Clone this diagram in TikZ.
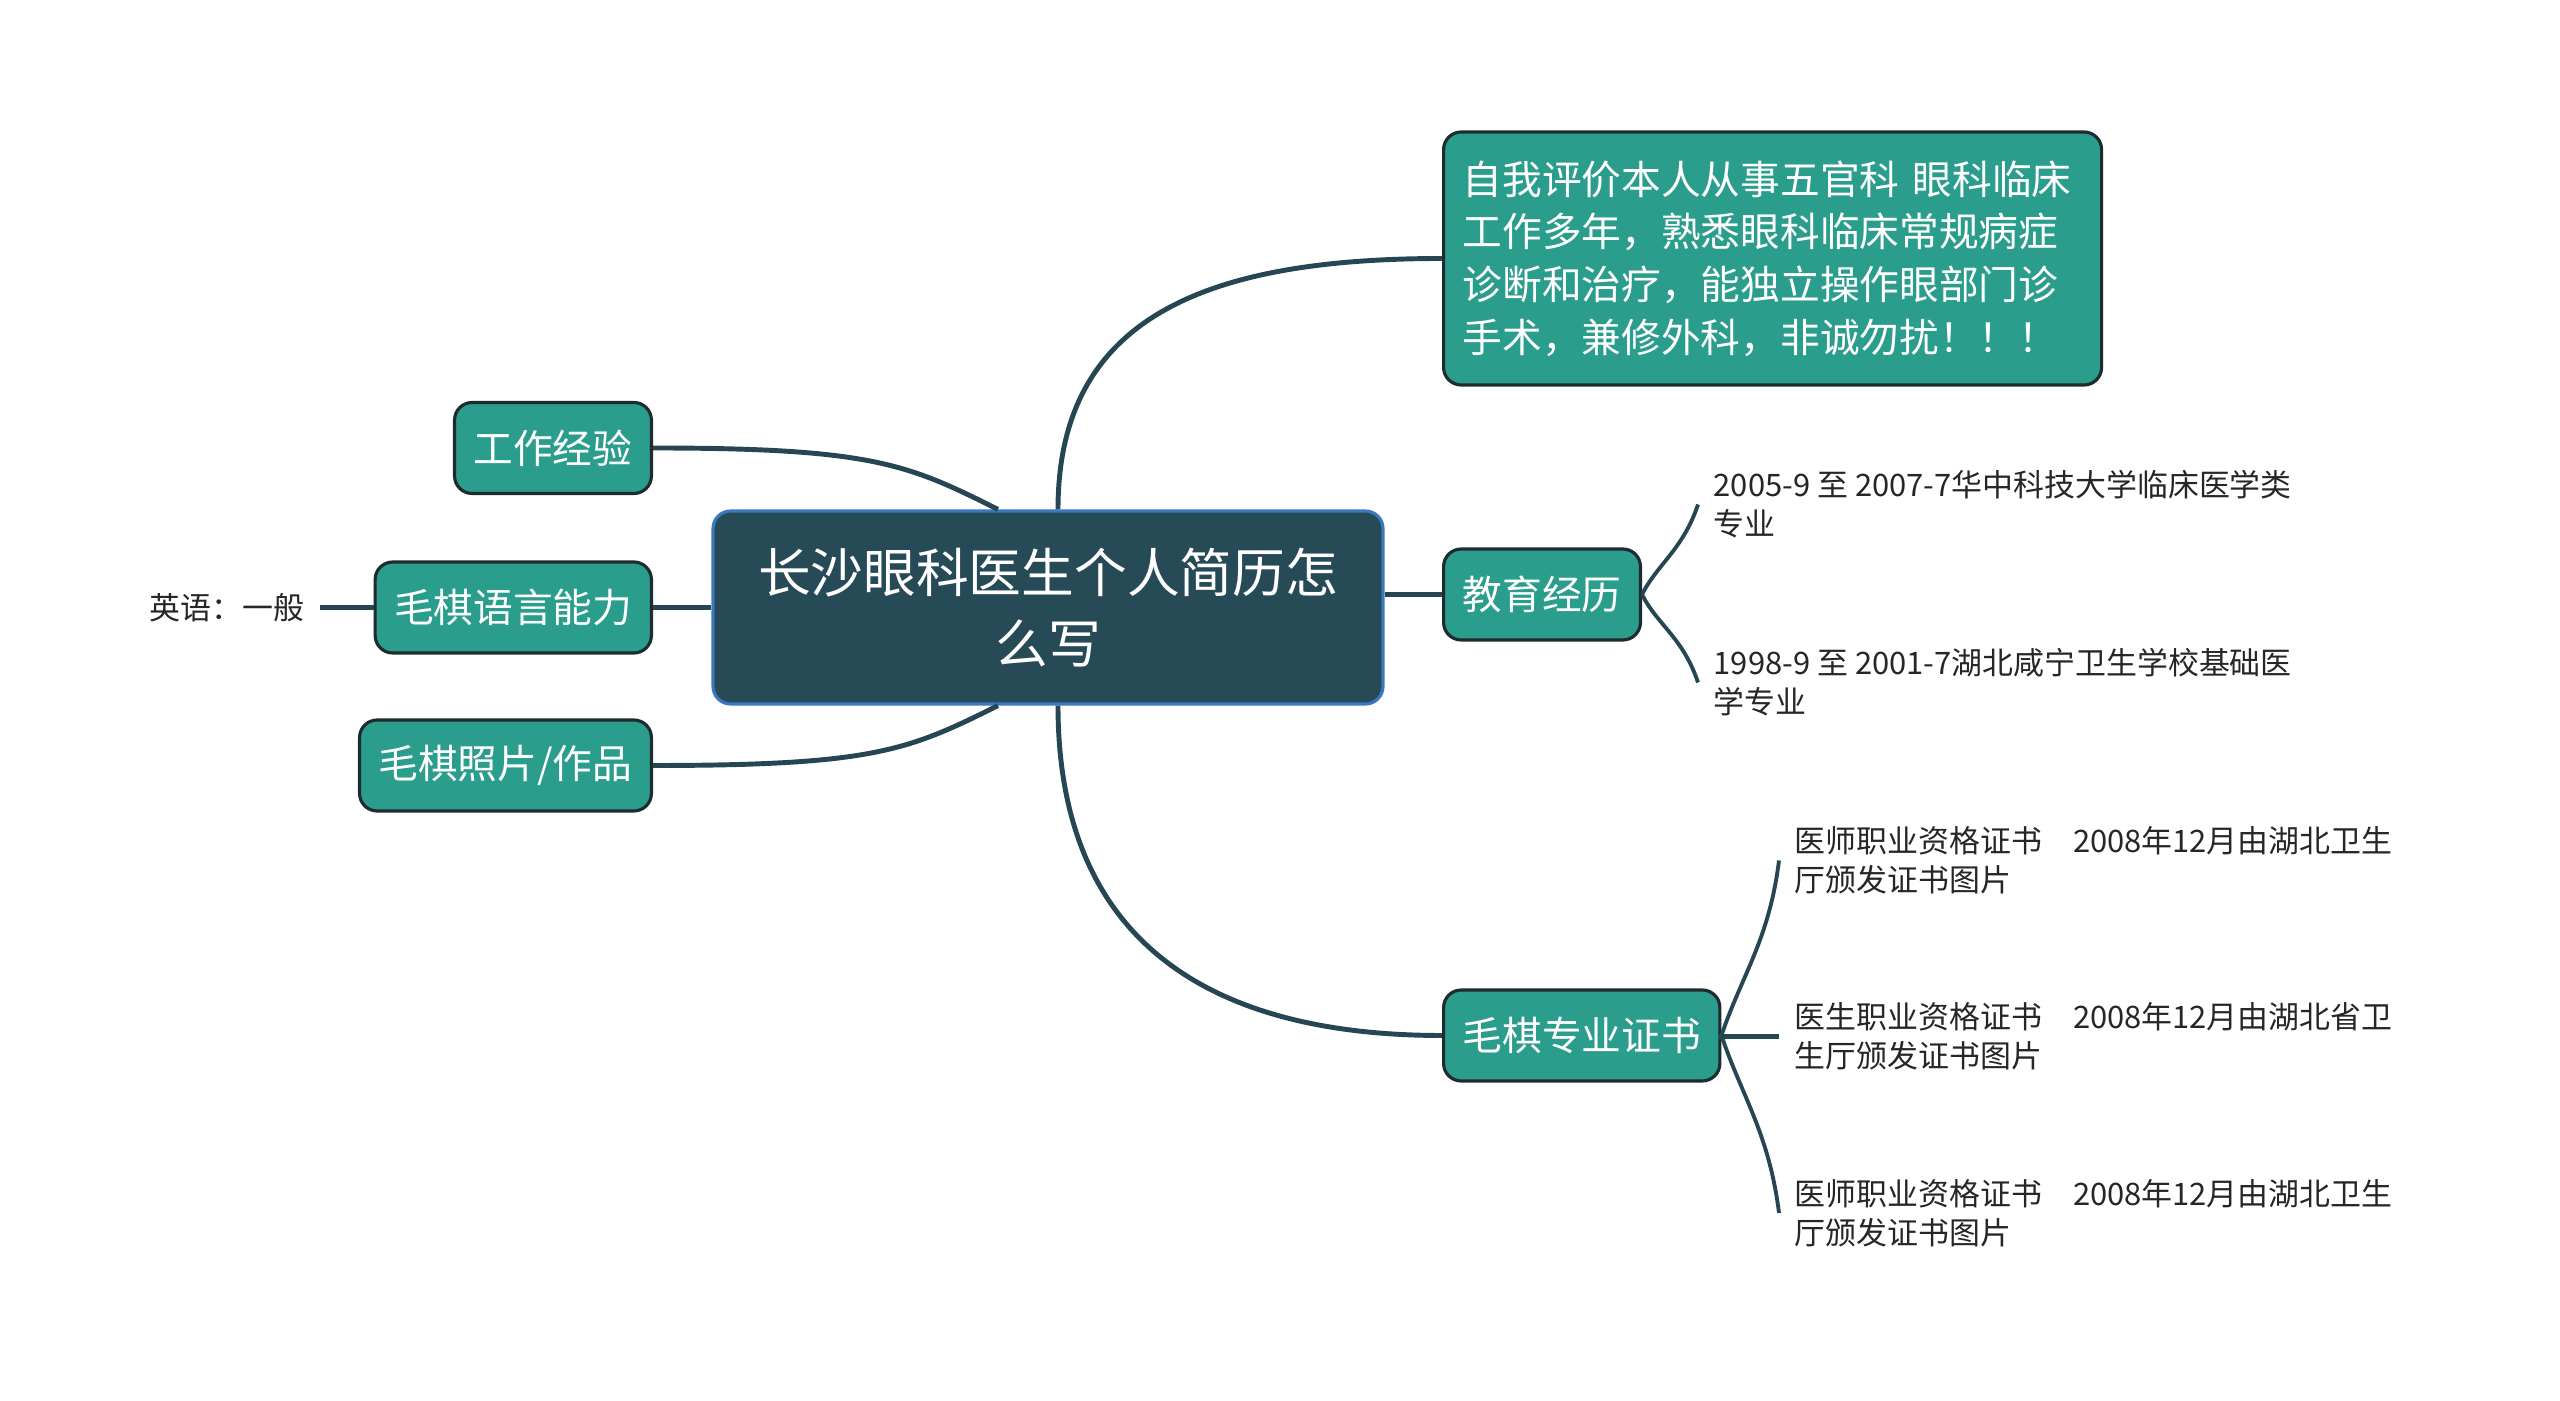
\documentclass[tikz,border=0pt]{standalone}
\usepackage{fontspec}
\usepackage{tikz}
\usetikzlibrary{positioning,calc}
\newfontfamily\cjk{Noto Sans CJK SC}
\definecolor{rootfill}{HTML}{274A57}
\definecolor{rootline}{HTML}{3A78C2}
\definecolor{topicfill}{HTML}{2A9D8C}
\definecolor{topicline}{HTML}{1E2B2F}
\definecolor{linkcol}{HTML}{264653}
\definecolor{leaftext}{HTML}{262626}
\tikzset{
  mroot/.style={draw=rootline,fill=rootfill,text=white,rounded corners=5pt,line width=0.9pt,align=center,
    font=\cjk\fontsize{15}{20}\selectfont,minimum width=6.7cm,minimum height=1.93cm},
  mtopic/.style={draw=topicline,fill=topicfill,text=white,rounded corners=5pt,line width=0.9pt,
    inner xsep=0.19cm,minimum height=0.91cm,font=\cjk\fontsize{11.3}{15}\selectfont},
  mleaf/.style={text=leaftext,align=left,inner xsep=0.15cm,font=\cjk\fontsize{8.8}{11.1}\selectfont},
  mlink/.style={draw=linkcol,line width=1.4pt},
  msub/.style={draw=linkcol,line width=1.1pt}
}

\begin{document}
\begin{tikzpicture}
  \useasboundingbox (0,0) rectangle (25.6,-14.01);
  \node[mroot] (root) at (10.48,-6.075) {长沙眼科医生个人简历怎\\么写};
  \node[mtopic,text width=6.2cm,align=left,minimum height=2.53cm,anchor=west] (self) at (14.42,-2.585)
    {自我评价本人从事五官科 眼科临床\\工作多年，熟悉眼科临床常规病症\\诊断和治疗，能独立操作眼部门诊\\手术，兼修外科，非诚勿扰！！！};
  \node[mtopic,anchor=west] (edu) at (14.42,-5.945) {教育经历};
  \node[mtopic,anchor=west] (cert) at (14.42,-10.355) {毛棋专业证书};
  \node[mtopic,anchor=east] (work) at (6.53,-4.48) {工作经验};
  \node[mtopic,anchor=east] (lang) at (6.53,-6.075) {毛棋语言能力};
  \node[mtopic,anchor=east] (photo) at (6.53,-7.655) {毛棋照片/作品};
  \node[mleaf,anchor=east] (eng) at (3.20,-6.075) {英语：一般};
  \node[mleaf,anchor=west] (edua) at (16.98,-5.045) {2005-9 至 2007-7华中科技大学临床医学类\\专业};
  \node[mleaf,anchor=west] (edub) at (16.98,-6.825) {1998-9 至 2001-7湖北咸宁卫生学校基础医\\学专业};
  \node[mleaf,anchor=west] (certa) at (17.79,-8.605) {医师职业资格证书　2008年12月由湖北卫生\\厅颁发证书图片};
  \node[mleaf,anchor=west] (certb) at (17.79,-10.365) {医生职业资格证书　2008年12月由湖北省卫\\生厅颁发证书图片};
  \node[mleaf,anchor=west] (certc) at (17.79,-12.13) {医师职业资格证书　2008年12月由湖北卫生\\厅颁发证书图片};
  \draw[mlink] ([xshift=1mm]root.north) .. controls +(0,1.9) and +(-2.4,0) .. (self.west);
  \draw[mlink] ([xshift=1mm]root.south) .. controls +(0,-2.3) and +(-2.4,0) .. (cert.west);
  \draw[mlink] (root.east |- edu.west) -- (edu.west);
  \draw[mlink] (work.east) .. controls +(2.2,0) and +(-0.9,0.45) .. ([xshift=-5mm]root.north);
  \draw[mlink] (lang.east) -- (root.west);
  \draw[mlink] (photo.east) .. controls +(2.2,0) and +(-0.9,-0.45) .. ([xshift=-5mm]root.south);
  \draw[mlink] (eng.east) -- (lang.west);
  \draw[msub] (edu.east) .. controls +(0.15,0.3) and +(-0.15,-0.45) .. (edua.west);
  \draw[msub] (edu.east) .. controls +(0.15,-0.3) and +(-0.15,0.45) .. (edub.west);
  \draw[msub] (cert.east) .. controls +(0.2,0.6) and +(-0.1,-0.8) .. (certa.west);
  \draw[mlink] (cert.east) -- (certb.west -| cert.east) -- (certb.west);
  \draw[msub] (cert.east) .. controls +(0.2,-0.6) and +(-0.1,0.8) .. (certc.west);
\end{tikzpicture}
\end{document}
